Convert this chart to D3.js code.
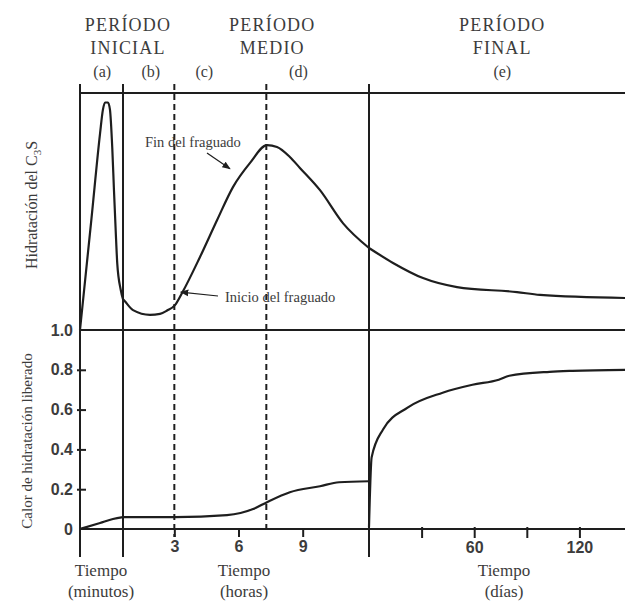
<!DOCTYPE html>
<html>
<head>
<meta charset="utf-8">
<script src="https://cdn.jsdelivr.net/npm/d3@7"></script>
<style>
  html, body { margin: 0; padding: 0; background: #fff; }
  svg { display: block; }
</style>
</head>
<body>
<svg id="chart" width="625" height="603"></svg>
<script>
// ---------- DATA ----------
// Upper panel: C3S hydration rate (arbitrary units 0..1)
const topMinutes = [[0,0],[8,0.47],[14,0.83],[16,0.93],[17.5,0.96],[19.5,0.96],[20.9,0.93],[22.5,0.77],[23.7,0.59],[24.9,0.42],[26,0.28],[28.4,0.17],[30,0.13]];
const topHours = [[0.6,0.13],[0.7,0.12],[1.07,0.084],[1.86,0.064],[2.33,0.068],[2.66,0.082],[3.03,0.105],[3.36,0.156],[4.2,0.308],[5.0,0.464],[5.74,0.603],[6.54,0.705],[7.33,0.78],[7.8,0.772],[8.4,0.73],[8.87,0.684],[9.81,0.59],[10.89,0.45],[12.1,0.346]];
const topDays = [[0,0.346],[13.7,0.283],[30.8,0.219],[50.2,0.181],[84.4,0.16],[97.5,0.148],[146,0.135]];
// Lower panel: heat of hydration released (0..1)
const heatMinutes = [[0,0],[14,0.03],[23,0.05],[30,0.06]];
const heatHours = [[0.6,0.06],[3.03,0.06],[5.46,0.07],[6.68,0.1],[7.33,0.135],[8.4,0.185],[9.81,0.215],[10.7,0.235],[12.1,0.24]];
const heatDays = [[0,0.01],[1.5,0.36],[8,0.5],[22,0.61],[42,0.685],[59,0.725],[74,0.75],[80,0.77],[103,0.79],[116,0.795],[146,0.8]];
// Axis ticks
const heatTicks = [0, 0.2, 0.4, 0.6, 0.8, 1.0];
const heatTickLabels = ["0", "0.2", "0.4", "0.6", "0.8", "1.0"];
const hourTicks = [3, 6, 9];
const dayTicks = [30, 60, 90, 120];
const dayTickLabels = ["", "60", "", "120"];
// Period boundaries / markers
const minutesEnd = 30;        // end of minute segment
const dashedHours = [3, 7.3]; // inicio / fin del fraguado
const periods = [
  {l1: "PERÍODO", l2: "INICIAL", x: "min", t: 30, off: 5},
  {l1: "PERÍODO", l2: "MEDIO", x: "hour", t: 7.3, off: 6},
  {l1: "PERÍODO", l2: "FINAL", x: "day", t: 76, off: 0}
];
const stageLabels = [
  {s: "(a)", seg: "min", t: 15.5},
  {s: "(b)", seg: "hour", t: 1.9},
  {s: "(c)", seg: "hour", t: 4.4},
  {s: "(d)", seg: "hour", t: 8.8},
  {s: "(e)", seg: "day", t: 76}
];

// ---------- LAYOUT ----------
const svg = d3.select("#chart");
const xMin = d3.scaleLinear().domain([0, 30]).range([80, 123]);
const xHour = d3.scaleLinear().domain([0.6, 12.1]).range([123, 369]);
const xDay = d3.scaleLinear().domain([0, 146]).range([369, 625]);
const segX = {min: xMin, hour: xHour, day: xDay};
const yTop = d3.scaleLinear().domain([0, 1]).range([330, 93]);
const yHeat = d3.scaleLinear().domain([0, 1]).range([529, 330]);

const ink = "#1e1e1e";
const textCol = "#3c3c3c";
const serif = "'Liberation Serif','DejaVu Serif',serif";
const sans = "'Liberation Sans',Arial,sans-serif";

// horizontal frame lines
[yTop(1), yHeat(1), yHeat(0)].forEach(y => {
  svg.append("line").attr("x1", 80).attr("x2", 625).attr("y1", y).attr("y2", y)
    .attr("stroke", ink).attr("stroke-width", 2);
});

// solid vertical lines
[xMin(0), xMin(minutesEnd), xDay(0)].forEach(x => {
  svg.append("line").attr("x1", x).attr("x2", x).attr("y1", 84).attr("y2", 557)
    .attr("stroke", ink).attr("stroke-width", 2);
});
// dashed vertical lines
dashedHours.forEach((h, i) => {
  const x = xHour(h);
  svg.append("line").attr("x1", x).attr("x2", x).attr("y1", 84).attr("y2", i === 0 ? 537 : 529)
    .attr("stroke", ink).attr("stroke-width", 2).attr("stroke-dasharray", "6,4");
});

// left y axis (heat)
const yAxis = d3.axisLeft(yHeat).tickValues(heatTicks).tickFormat((d, i) => heatTickLabels[i]).tickSize(0).tickPadding(7);
const ga = svg.append("g").attr("transform", "translate(80,0)").call(yAxis);
ga.select(".domain").remove();
ga.selectAll(".tick text").attr("font-family", sans).attr("font-size", 16).attr("font-weight", "bold").attr("fill", textCol);
ga.selectAll(".tick").filter(d => d > 0 && d < 1).append("line")
  .attr("x1", -3).attr("x2", 6).attr("stroke", ink).attr("stroke-width", 2);

// bottom axis hours
const hAxis = d3.axisBottom(xHour).tickValues(hourTicks).tickSize(9).tickPadding(4).tickFormat(d3.format("d"));
const gh = svg.append("g").attr("transform", `translate(0,${yHeat(0) - 1})`).call(hAxis);
gh.select(".domain").remove();
gh.selectAll(".tick line").attr("stroke", ink).attr("stroke-width", 2);
gh.selectAll(".tick text").attr("font-family", sans).attr("font-size", 16).attr("font-weight", "bold").attr("fill", textCol);

// bottom axis days
const dAxis = d3.axisBottom(xDay).tickValues(dayTicks).tickSize(11).tickPadding(4).tickFormat((d, i) => dayTickLabels[i]);
const gd = svg.append("g").attr("transform", `translate(0,${yHeat(0) - 2})`).call(dAxis);
gd.select(".domain").remove();
gd.selectAll(".tick line").attr("stroke", ink).attr("stroke-width", 2);
gd.selectAll(".tick text").attr("font-family", sans).attr("font-size", 16).attr("font-weight", "bold").attr("fill", textCol);

// curves
function drawSeg(data, xs, ys) {
  const line = d3.line().x(d => xs(d[0])).y(d => ys(d[1])).curve(d3.curveMonotoneX);
  svg.append("path").attr("d", line(data)).attr("fill", "none")
    .attr("stroke", ink).attr("stroke-width", 2.2).attr("stroke-linejoin", "round");
}
drawSeg(topMinutes, xMin, yTop);
drawSeg(topHours, xHour, yTop);
drawSeg(topDays, xDay, yTop);
drawSeg(heatMinutes, xMin, yHeat);
drawSeg(heatHours, xHour, yHeat);
// connect hour end to day start (vertical spike at segment border)
svg.append("path")
  .attr("d", d3.line()([[xHour(12.1), yHeat(0.24)], [xDay(0), yHeat(heatDays[0][1])]]))
  .attr("fill", "none").attr("stroke", ink).attr("stroke-width", 2);
drawSeg(heatDays, xDay, yHeat);

// header texts
periods.forEach(p => {
  const x = segX[p.x](p.t) + (p.off || 0);
  svg.append("text").attr("x", x).attr("y", 31).attr("text-anchor", "middle")
    .attr("font-family", serif).attr("font-size", 18).attr("letter-spacing", 1.2).attr("fill", textCol).text(p.l1);
  svg.append("text").attr("x", x).attr("y", 54).attr("text-anchor", "middle")
    .attr("font-family", serif).attr("font-size", 18).attr("letter-spacing", 1.2).attr("fill", textCol).text(p.l2);
});
stageLabels.forEach(s => {
  svg.append("text").attr("x", segX[s.seg](s.t)).attr("y", 77).attr("text-anchor", "middle")
    .attr("font-family", serif).attr("font-size", 16).attr("fill", textCol).text(s.s);
});

// annotations
const defs = svg.append("defs");
defs.append("marker").attr("id", "arr").attr("viewBox", "0 0 10 10").attr("refX", 9).attr("refY", 5)
  .attr("markerWidth", 7).attr("markerHeight", 7).attr("orient", "auto")
  .append("path").attr("d", "M0,1 L10,5 L0,9 Z").attr("fill", ink);

svg.append("text").attr("x", 145).attr("y", 147).attr("font-family", serif).attr("font-size", 14.5)
  .attr("fill", textCol).text("Fin del fraguado");
svg.append("line").attr("x1", 207).attr("y1", 153).attr("x2", xHour(5.6)).attr("y2", yTop(0.68))
  .attr("stroke", ink).attr("stroke-width", 1.2).attr("marker-end", "url(#arr)");

svg.append("text").attr("x", 225).attr("y", 302).attr("font-family", serif).attr("font-size", 14.5)
  .attr("fill", textCol).text("Inicio del fraguado");
svg.append("line").attr("x1", 218).attr("y1", 296).attr("x2", xHour(3.3)).attr("y2", yTop(0.16))
  .attr("stroke", ink).attr("stroke-width", 1.2).attr("marker-end", "url(#arr)");

// y axis titles
const t1 = svg.append("text").attr("transform", `translate(37,205) rotate(-90)`).attr("text-anchor", "middle")
  .attr("font-family", serif).attr("font-size", 16).attr("fill", textCol);
t1.append("tspan").text("Hidratación del C");
t1.append("tspan").attr("font-size", 11).attr("dy", 4).text("3");
t1.append("tspan").attr("dy", -4).text("S");

svg.append("text").attr("transform", `translate(32,441) rotate(-90)`).attr("text-anchor", "middle")
  .attr("font-family", serif).attr("font-size", 15).attr("fill", textCol).text("Calor de hidratación liberado");

// x axis titles
const xTitles = [
  {a: "Tiempo", b: "(minutos)", x: 101},
  {a: "Tiempo", b: "(horas)", x: 244},
  {a: "Tiempo", b: "(días)", x: 504}
];
xTitles.forEach(t => {
  svg.append("text").attr("x", t.x).attr("y", 576).attr("text-anchor", "middle")
    .attr("font-family", serif).attr("font-size", 17).attr("fill", textCol).text(t.a);
  svg.append("text").attr("x", t.x).attr("y", 597).attr("text-anchor", "middle")
    .attr("font-family", serif).attr("font-size", 17).attr("fill", textCol).text(t.b);
});
</script>
</body>
</html>
